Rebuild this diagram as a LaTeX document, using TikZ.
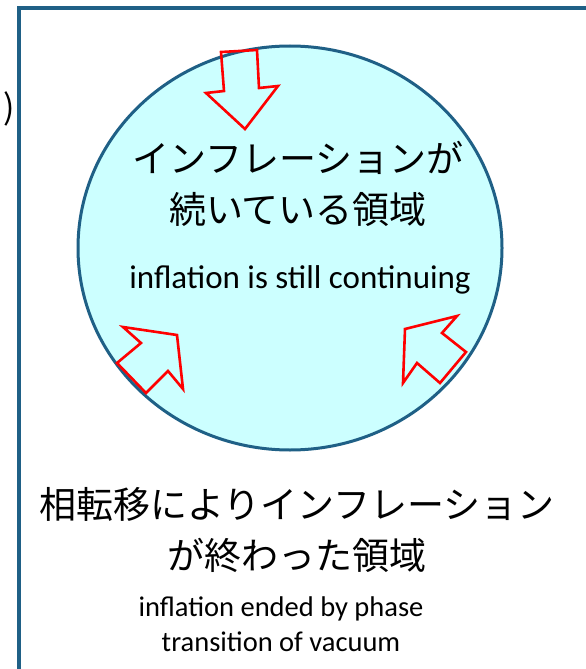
\documentclass[tikz,border=0pt]{standalone}
\usepackage{fontspec}
\usetikzlibrary{shapes.geometric}
\setmainfont{Carlito}
\newfontfamily\jp{Noto Sans CJK JP}
\definecolor{frameblue}{RGB}{31,96,134}
\definecolor{lightcyan}{RGB}{204,255,255}
\definecolor{arrowred}{RGB}{255,0,0}
\begin{document}
\begin{tikzpicture}[x=1pt,y=-1pt,
  jptext/.style={font=\jp\fontsize{37}{51}\selectfont, align=center, inner sep=0pt},
  redarrow/.style={draw=arrowred, line width=2.6pt, line join=miter}]
\useasboundingbox (0,0) rectangle (586,669);
\clip (0,0) rectangle (586,669);
\fill[white] (0,0) rectangle (586,669);
% frame
\draw[frameblue, line width=4pt] (19,700) -- (19,8) -- (620,8);
% paren
\node[font=\jp\fontsize{34}{34}\selectfont, inner sep=0pt, anchor=east] (paren) at (15,109) {)};
% region
\node[ellipse, draw=frameblue, fill=lightcyan, line width=3pt, minimum width=424pt, minimum height=404pt, inner sep=0pt] (region) at (290,248) {};
% arrows
\draw[redarrow] (221,52) -- (257,50) -- (259,88) -- (278,86) -- (245,129) -- (206,93) -- (224,91) -- cycle;
\draw[redarrow] (123,327) -- (177,335) -- (183,389) -- (168,371) -- (146,393) -- (117,363) -- (141,343) -- cycle;
\draw[redarrow] (457,316) -- (442,333) -- (466,352) -- (440,383) -- (417,363) -- (403,383) -- (405,329) -- cycle;
% texts
\node[jptext] (t1) at (298,184) {インフレーションが\\続いている領域};
\node[font=\fontsize{33}{35}\selectfont, inner sep=0pt] (t2) at (300,280) {inflation is still continuing};
\node[jptext] (t3) at (297,530) {相転移によりインフレーション\\が終わった領域};
\node[font=\fontsize{28.5}{35}\selectfont, align=center, inner sep=0pt] (t4) at (281,624) {inflation ended by phase\\transition of vacuum};
\end{tikzpicture}
\end{document}
